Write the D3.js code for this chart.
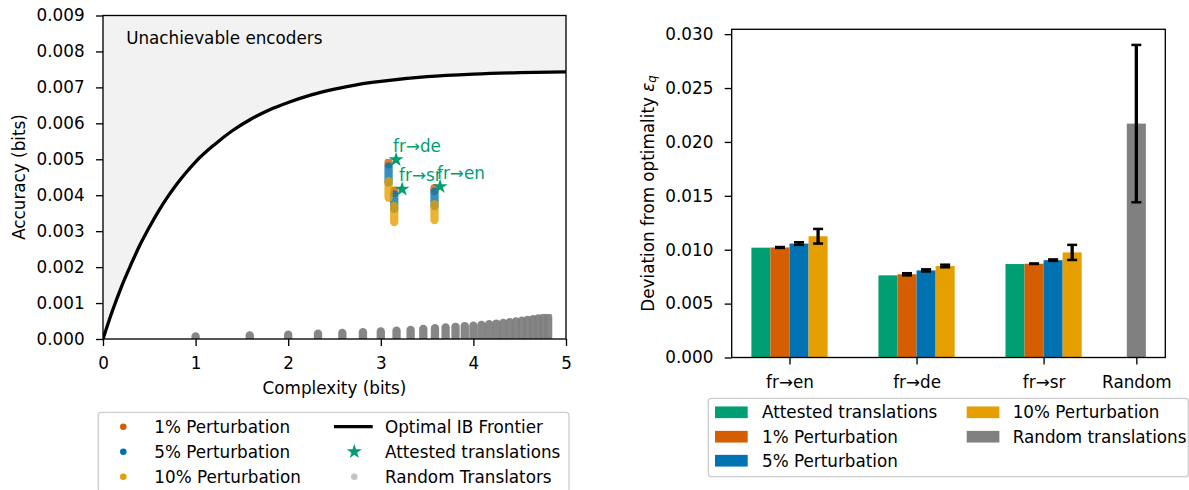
<!DOCTYPE html>
<html>
<head>
<meta charset="utf-8">
<script src="https://cdn.jsdelivr.net/npm/d3@7"></script>
<style>
  body { margin: 0; background: #fff; }
  svg text { font-family: "DejaVu Sans", sans-serif; font-size: 16.8px; fill: #000; }
</style>
</head>
<body>
<svg id="chart" width="1189" height="490"></svg>
<script>
// ---- left panel data ----
const frontierX = [0, 0.1, 0.2, 0.3, 0.4, 0.5, 0.6, 0.7, 0.8, 0.9, 1.0, 1.2, 1.4, 1.6, 1.8, 2.0, 2.25, 2.5, 2.75, 3.0, 3.5, 4.0, 4.5, 5.0];
const frontierY = [0, 0.00077, 0.00146, 0.00206, 0.00262, 0.00311, 0.00356, 0.00396, 0.00432, 0.00464, 0.00493, 0.0054, 0.0058, 0.00612, 0.00638, 0.00658, 0.00679, 0.00695, 0.00708, 0.00717, 0.0073, 0.00737, 0.00741, 0.00743];

// random translators (one vertical smear per vocabulary size)
const randomX = [1.0, 1.585, 2.0, 2.322, 2.585, 2.807, 3.0, 3.17, 3.322, 3.459, 3.585, 3.7, 3.807, 3.907, 4.0, 4.087, 4.17, 4.248, 4.322, 4.392, 4.459, 4.524, 4.585, 4.644, 4.7, 4.755, 4.807];
const randomLo = [0, 0, 0, 0, 0, 0, 0, 0, 0, 0, 0, 0.00001, 0.00001, 0.00001, 0.00002, 0.00002, 0.00002, 0.00002, 0.00003, 0.00003, 0.00003, 0.00003, 0.00004, 0.00004, 0.00004, 0.00004, 0.00004];
const randomHi = [0.00007, 0.0001, 0.00012, 0.00015, 0.00017, 0.00019, 0.00021, 0.00023, 0.00025, 0.00028, 0.0003, 0.00032, 0.00034, 0.00036, 0.00037, 0.00039, 0.00041, 0.00043, 0.00045, 0.00047, 0.00049, 0.00051, 0.00053, 0.00055, 0.00057, 0.00059, 0.00061];

const pairNames = ["fr→de", "fr→sr", "fr→en"];
const attestedX = [3.165, 3.23, 3.64];
const attestedY = [0.00499, 0.00417, 0.00424];
const perturbX = [3.084, 3.145, 3.58];
const pert1Lo = [0.00486, 0.00406, 0.00412];
const pert1Hi = [0.00492, 0.00413, 0.0042];
const pert5Lo = [0.00435, 0.00362, 0.0037];
const pert5Hi = [0.0048, 0.00402, 0.0041];
const pert10Lo = [0.00393, 0.00325, 0.00331];
const pert10Hi = [0.0044, 0.0037, 0.00375];

// ---- right panel data ----
const barGroups = ["fr→en", "fr→de", "fr→sr"];
const groupPos = [0, 1, 2];
const devAttested = [0.01019, 0.00762, 0.00867];
const dev1 = [0.01021, 0.00772, 0.0087];
const dev1Err = [0.00004, 0.0001, 0.00002];
const dev5 = [0.01057, 0.00808, 0.00903];
const dev5Err = [0.00012, 0.0001, 0.00007];
const dev10 = [0.01125, 0.00849, 0.00975];
const dev10Err = [0.00068, 0.00012, 0.0007];
const randomPos = 2.73;
const devRandom = 0.0217;
const devRandomErr = 0.0073;

const green = "#009E73", orange = "#D55E00", blue = "#0072B2", yellow = "#E69F00", grey = "#808080";

const svg = d3.select("#chart");
svg.append("rect").attr("width", 1189).attr("height", 490).attr("fill", "#fff");

const defs = svg.append("defs");
defs.append("clipPath").attr("id", "clipL")
  .append("rect").attr("x", 103).attr("y", 15.5).attr("width", 463).attr("height", 323.5);
defs.append("filter").attr("id", "soft")
  .append("feGaussianBlur").attr("stdDeviation", 0.7);

function styleAxis(g) {
  g.select(".domain").remove();
  g.selectAll(".tick line").attr("stroke", "#000").attr("stroke-width", 1.33);
}

// ================= left panel =================
const xL = d3.scaleLinear().domain([0, 5]).range([103, 566]);
const yL = d3.scaleLinear().domain([0, 0.009]).range([339, 15.5]);
const frontier = frontierX.map((x, i) => [x, frontierY[i]]);

const plotL = svg.append("g").attr("clip-path", "url(#clipL)");

plotL.append("path")
  .datum(frontier)
  .attr("fill", "#f2f2f2")
  .attr("d", d3.area().x(d => xL(d[0])).y0(yL(0.009)).y1(d => yL(d[1])).curve(d3.curveMonotoneX));

plotL.append("text")
  .attr("x", xL(0.25)).attr("y", yL(0.0082))
  .text("Unachievable encoders");

// random translators
plotL.append("g").attr("filter", "url(#soft)")
  .selectAll("line").data(randomX).join("line")
  .attr("x1", d => xL(d)).attr("x2", d => xL(d))
  .attr("y1", (d, i) => yL(randomLo[i])).attr("y2", (d, i) => yL(randomHi[i]))
  .attr("stroke", grey).attr("stroke-opacity", 0.95)
  .attr("stroke-width", 8.3).attr("stroke-linecap", "round");

// perturbation streaks
const streaks = [
  { lo: pert1Lo, hi: pert1Hi, color: orange },
  { lo: pert5Lo, hi: pert5Hi, color: blue },
  { lo: pert10Lo, hi: pert10Hi, color: yellow }
];
streaks.forEach(s => {
  plotL.append("g").attr("filter", "url(#soft)")
    .selectAll("line").data(perturbX).join("line")
    .attr("x1", d => xL(d)).attr("x2", d => xL(d))
    .attr("y1", (d, i) => yL(s.lo[i])).attr("y2", (d, i) => yL(s.hi[i]))
    .attr("stroke", s.color).attr("stroke-opacity", 0.8)
    .attr("stroke-width", 8.3).attr("stroke-linecap", "round");
});

// frontier line
plotL.append("path")
  .datum(frontier)
  .attr("fill", "none").attr("stroke", "#000").attr("stroke-width", 3.3)
  .attr("d", d3.line().x(d => xL(d[0])).y(d => yL(d[1])).curve(d3.curveMonotoneX));

// attested stars + labels
const star = d3.symbol(d3.symbolStar, 70);
svg.append("g").selectAll("path").data(attestedX).join("path")
  .attr("transform", (d, i) => `translate(${xL(d)},${yL(attestedY[i])})`)
  .attr("d", star).attr("fill", green);
svg.append("g").selectAll("text").data(pairNames).join("text")
  .attr("x", (d, i) => xL(attestedX[i]) - 3)
  .attr("y", (d, i) => yL(attestedY[i]) - 8)
  .style("fill", green)
  .text(d => d);

// axes
svg.append("g").attr("transform", "translate(0,339)")
  .call(d3.axisBottom(xL).tickValues([0, 1, 2, 3, 4, 5]).tickFormat(d3.format("d")).tickSize(7).tickPadding(11.2))
  .call(styleAxis);
svg.append("g").attr("transform", "translate(103,0)")
  .call(d3.axisLeft(yL).tickValues(d3.range(0, 10).map(d => d / 1000)).tickFormat(d3.format(".3f")).tickSize(7).tickPadding(11.4))
  .call(styleAxis);
svg.append("rect").attr("x", 103).attr("y", 15.5).attr("width", 463).attr("height", 323.5)
  .attr("fill", "none").attr("stroke", "#000").attr("stroke-width", 1.33);

svg.append("text").attr("x", 334.5).attr("y", 388)
  .attr("text-anchor", "middle").attr("dominant-baseline", "central")
  .text("Complexity (bits)");
svg.append("text").attr("transform", "translate(19,177) rotate(-90)")
  .attr("text-anchor", "middle").attr("dominant-baseline", "central")
  .text("Accuracy (bits)");

// left legend
const legL = svg.append("g");
legL.append("rect").attr("x", 98.3).attr("y", 412.3).attr("width", 470.7).attr("height", 80)
  .attr("rx", 3).attr("fill", "#fff").attr("stroke", "#cccccc").attr("stroke-width", 1.3);
const legLRows = [426.7, 451.7, 476.7];
const legLCol1 = [["1% Perturbation", orange], ["5% Perturbation", blue], ["10% Perturbation", yellow]];
legLCol1.forEach((d, i) => {
  legL.append("circle").attr("cx", 123.3).attr("cy", legLRows[i]).attr("r", 3.3).attr("fill", d[1]);
  legL.append("text").attr("x", 154.3).attr("y", legLRows[i]).attr("dominant-baseline", "central").text(d[0]);
});
legL.append("line").attr("x1", 334).attr("x2", 372.7).attr("y1", legLRows[0]).attr("y2", legLRows[0])
  .attr("stroke", "#000").attr("stroke-width", 3.3);
legL.append("path").attr("transform", `translate(354.3,${legLRows[1]})`).attr("d", star).attr("fill", green);
legL.append("circle").attr("cx", 354.3).attr("cy", legLRows[2]).attr("r", 3.3).attr("fill", "#c4c4c4");
["Optimal IB Frontier", "Attested translations", "Random Translators"].forEach((t, i) => {
  legL.append("text").attr("x", 385).attr("y", legLRows[i]).attr("dominant-baseline", "central").text(t);
});

// ================= right panel =================
const xR = d3.scaleLinear().domain([-0.455, 2.958]).range([731.7, 1165.3]);
const yR = d3.scaleLinear().domain([0, 0.03045]).range([357.5, 29.3]);
const barW = 0.15;

const series = [
  { vals: devAttested, err: null, color: green, off: -1.5 },
  { vals: dev1, err: dev1Err, color: orange, off: -0.5 },
  { vals: dev5, err: dev5Err, color: blue, off: 0.5 },
  { vals: dev10, err: dev10Err, color: yellow, off: 1.5 }
];
const barsR = svg.append("g");
series.forEach(s => {
  barsR.selectAll(null).data(groupPos).join("rect")
    .attr("x", (d) => xR(d + (s.off - 0.5) * barW))
    .attr("width", xR(barW) - xR(0))
    .attr("y", (d, i) => yR(s.vals[i]))
    .attr("height", (d, i) => yR(0) - yR(s.vals[i]))
    .attr("fill", s.color);
});
barsR.append("rect")
  .attr("x", xR(randomPos - barW / 2)).attr("width", xR(barW) - xR(0))
  .attr("y", yR(devRandom)).attr("height", yR(0) - yR(devRandom))
  .attr("fill", grey);

// error bars
const errData = [];
series.filter(s => s.err).forEach(s => {
  groupPos.forEach((p, i) => errData.push({ x: p + s.off * barW, v: s.vals[i], e: s.err[i] }));
});
errData.push({ x: randomPos, v: devRandom, e: devRandomErr });
const eb = svg.append("g").attr("stroke", "#000");
eb.selectAll("line.v").data(errData).join("line").attr("class", "v")
  .attr("x1", d => xR(d.x)).attr("x2", d => xR(d.x))
  .attr("y1", d => yR(d.v - d.e)).attr("y2", d => yR(d.v + d.e))
  .attr("stroke-width", 3.3);
[-1, 1].forEach(sg => {
  eb.selectAll(null).data(errData).join("line")
    .attr("x1", d => xR(d.x) - 5).attr("x2", d => xR(d.x) + 5)
    .attr("y1", d => yR(d.v + sg * d.e)).attr("y2", d => yR(d.v + sg * d.e))
    .attr("stroke-width", 2.5);
});

// axes
const tickPos = groupPos.concat([randomPos]);
const tickNames = barGroups.concat(["Random"]);
svg.append("g").attr("transform", "translate(0,357.5)")
  .call(d3.axisBottom(xR).tickValues(tickPos).tickFormat((d, i) => tickNames[i]).tickSize(7).tickPadding(11.2))
  .call(styleAxis);
svg.append("g").attr("transform", "translate(731.7,0)")
  .call(d3.axisLeft(yR).tickValues(d3.range(0, 7).map(d => d * 0.005)).tickFormat(d3.format(".3f")).tickSize(7).tickPadding(11.4))
  .call(styleAxis);
svg.append("rect").attr("x", 731.7).attr("y", 29.3).attr("width", 433.6).attr("height", 328.2)
  .attr("fill", "none").attr("stroke", "#000").attr("stroke-width", 1.33);

const yLab = svg.append("text").attr("transform", "translate(648,193.4) rotate(-90)")
  .attr("text-anchor", "middle").attr("dominant-baseline", "central");
yLab.append("tspan").text("Deviation from optimality ");
yLab.append("tspan").style("font-style", "italic").text("ε");
yLab.append("tspan").style("font-style", "italic").style("font-size", "11.8px")
  .attr("dy", "4").text("q");

// right legend
const legR = svg.append("g");
legR.append("rect").attr("x", 708.3).attr("y", 398.3).attr("width", 480).attr("height", 78.4)
  .attr("rx", 3).attr("fill", "#fff").attr("stroke", "#cccccc").attr("stroke-width", 1.3);
const legRItems = [
  ["Attested translations", green, 715, 762, 412.3],
  ["1% Perturbation", orange, 715, 762, 436.7],
  ["5% Perturbation", blue, 715, 762, 460.7],
  ["10% Perturbation", yellow, 966.7, 1012.7, 412.3],
  ["Random translations", grey, 966.7, 1012.7, 436.7]
];
legRItems.forEach(d => {
  legR.append("rect").attr("x", d[2]).attr("y", d[4] - 5.85).attr("width", 32.7).attr("height", 11.7).attr("fill", d[1]);
  legR.append("text").attr("x", d[3]).attr("y", d[4]).attr("dominant-baseline", "central").text(d[0]);
});
</script>
</body>
</html>
